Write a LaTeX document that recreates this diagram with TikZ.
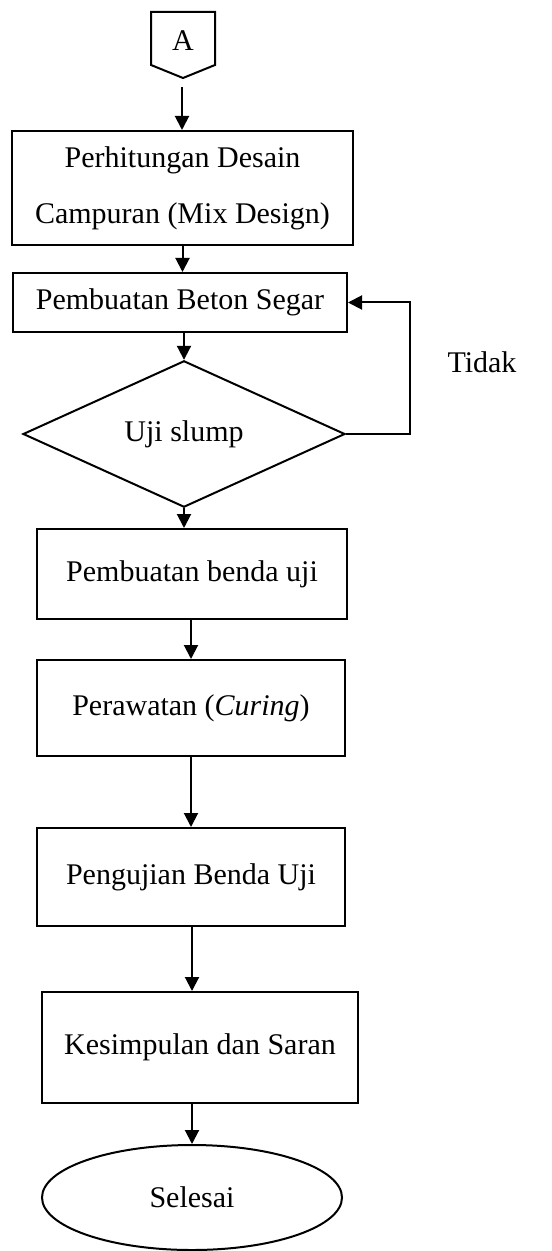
\documentclass[tikz,border=0pt]{standalone}
\usepackage{fontspec}
\setmainfont{Liberation Serif}
\usetikzlibrary{shapes.geometric,arrows.meta}

\begin{document}
\begin{tikzpicture}[x=0.5pt,y=-0.5pt,
  font=\fontsize{15}{28}\selectfont,
  proses/.style={draw, line width=1pt, inner sep=0pt, align=center},
  arr/.style={line width=1pt, -{Triangle[length=7pt,width=7pt]}}]
\useasboundingbox (0,0) rectangle (551,1251);
% penghubung A
\draw[line width=1pt] (151,12) -- (215,12) -- (215,65) -- (183,78) -- (151,65) -- cycle;
\node (A) at (183,41) {A};
\coordinate (Aout) at (182,87);
% langkah-langkah
\node[proses, minimum width=170.5pt, minimum height=57pt] (mix) at (182.5,188) {Perhitungan Desain\\Campuran (Mix Design)};
\node[proses, minimum width=167pt, minimum height=29.5pt] (beton) at (180,302.5) {Pembuatan Beton Segar};
\node[proses, diamond, minimum width=161pt, minimum height=59pt] (slump) at (184,434) {Uji slump};
\node[proses, minimum width=155pt, minimum height=45pt] (benda) at (192,574) {Pembuatan benda uji};
\node[proses, minimum width=154pt, minimum height=48pt] (rawat) at (191,708) {Perawatan (\textit{Curing})};
\node[proses, minimum width=154pt, minimum height=49pt] (uji) at (191,877) {Pengujian Benda Uji};
\node[proses, minimum width=158pt, minimum height=55.5pt] (simpul) at (200,1047.5) {Kesimpulan dan Saran};
\node[proses, ellipse, minimum width=150pt, minimum height=52.5pt] (selesai) at (192,1197.5) {Selesai};
\node (tidak) at (482,362) {Tidak};
\coordinate (balik) at (410,0);
% panah
\draw[arr] (Aout) -- (Aout |- mix.north);
\draw[arr] (mix.south) -- (mix.south |- beton.north);
\draw[arr] (slump.north |- beton.south) -- (slump.north);
\draw[arr] (slump.south) -- (slump.south |- benda.north);
\draw[arr] (rawat.north |- benda.south) -- (rawat.north);
\draw[arr] (rawat.south) -- (uji.north);
\draw[arr] (selesai.north |- uji.south) -- (selesai.north |- simpul.north);
\draw[arr] (selesai.north |- simpul.south) -- (selesai.north);
\draw[arr] (slump.east) -- (slump.east -| balik) |- (beton.east);
\end{tikzpicture}
\end{document}
